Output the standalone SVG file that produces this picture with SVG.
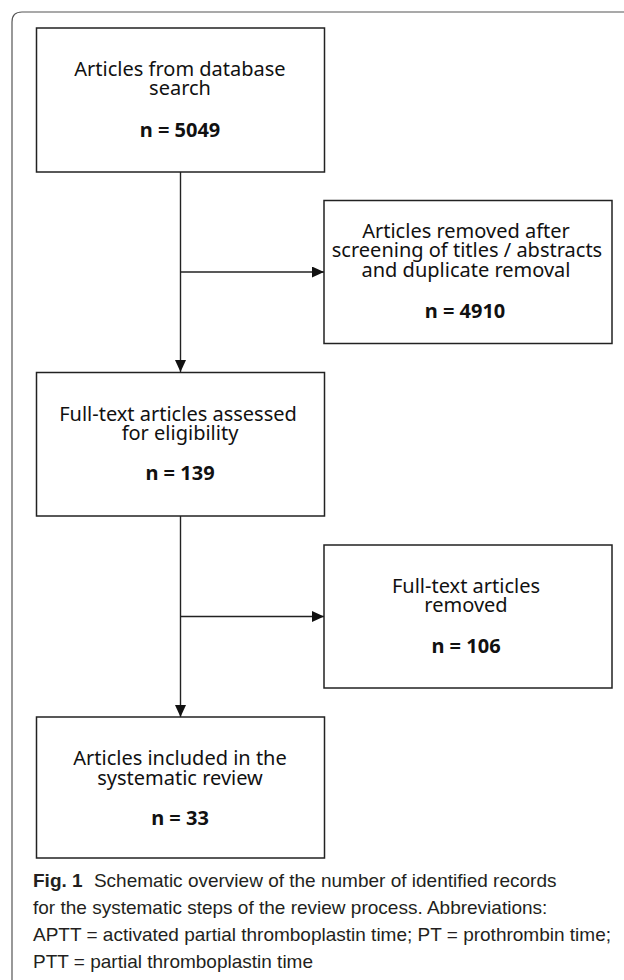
<svg xmlns="http://www.w3.org/2000/svg" width="624" height="980" viewBox="0 0 624 980">
  <style>
    .box { fill: #ffffff; stroke: #222222; stroke-width: 1.5; }
    .t { font-family: "Noto Sans", "Liberation Sans", sans-serif; font-size: 20px; fill: #111111; text-anchor: middle; }
    .n { font-family: "Noto Sans", "Liberation Sans", sans-serif; font-size: 20px; font-weight: bold; fill: #111111; text-anchor: middle; }
    .cap { font-family: "Liberation Sans", Arial, sans-serif; font-size: 19px; fill: #231f20; }
    .b { font-weight: bold; }
    .conn { fill: none; stroke: #222222; stroke-width: 1.4; }
    .frame { fill: none; stroke: #555555; stroke-width: 1.2; }
  </style>
  <defs>
    <marker id="arrow" markerUnits="userSpaceOnUse" markerWidth="12" markerHeight="11" viewBox="0 0 12 11" refX="12" refY="5.5" orient="auto">
      <path d="M0,0 L12,5.5 L0,11 z" fill="#111111"/>
    </marker>
  </defs>

  <path class="frame" d="M12,980 V22 Q12,12 22,12 H624"/>

  <g id="connectors">
    <path class="conn" d="M180.5,172 V372" marker-end="url(#arrow)"/>
    <path class="conn" d="M180.5,272 H324" marker-end="url(#arrow)"/>
    <path class="conn" d="M180.5,516 V717" marker-end="url(#arrow)"/>
    <path class="conn" d="M180.5,616.5 H324" marker-end="url(#arrow)"/>
  </g>

  <g id="node-search">
    <rect class="box" x="36.5" y="28" width="288" height="144"/>
    <text class="t" x="180" y="76">Articles from database</text>
    <text class="t" x="180" y="95">search</text>
    <text class="n" x="180" y="137">n = 5049</text>
  </g>

  <g id="node-removed1">
    <rect class="box" x="324" y="200.5" width="288" height="143"/>
    <text class="t" x="466" y="238">Articles removed after</text>
    <text class="t" x="467" y="257">screening of titles / abstracts</text>
    <text class="t" x="466" y="276.5">and duplicate removal</text>
    <text class="n" x="465" y="318">n = 4910</text>
  </g>

  <g id="node-fulltext">
    <rect class="box" x="36.5" y="372.5" width="288" height="143.5"/>
    <text class="t" x="178" y="421">Full-text articles assessed</text>
    <text class="t" x="180" y="440">for eligibility</text>
    <text class="n" x="180" y="480">n = 139</text>
  </g>

  <g id="node-removed2">
    <rect class="box" x="324" y="545" width="288" height="143"/>
    <text class="t" x="466" y="593">Full-text articles</text>
    <text class="t" x="466" y="611.5">removed</text>
    <text class="n" x="466" y="653">n = 106</text>
  </g>

  <g id="node-included">
    <rect class="box" x="36.5" y="717" width="288" height="141"/>
    <text class="t" x="180" y="765">Articles included in the</text>
    <text class="t" x="180" y="785">systematic review</text>
    <text class="n" x="180" y="825">n = 33</text>
  </g>

  <g id="caption">
    <text class="cap" x="33" y="887"><tspan class="b">Fig. 1</tspan><tspan dx="6"> Schematic overview of the number of identified records</tspan></text>
    <text class="cap" x="33" y="914">for the systematic steps of the review process. Abbreviations:</text>
    <text class="cap" x="33" y="941">APTT = activated partial thromboplastin time; PT = prothrombin time;</text>
    <text class="cap" x="33" y="968">PTT = partial thromboplastin time</text>
  </g>
</svg>
